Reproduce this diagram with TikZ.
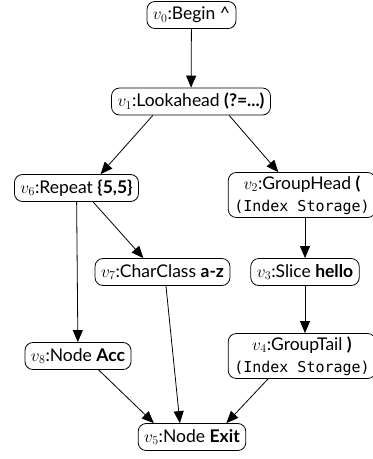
\documentclass[tikz,border=0pt]{standalone}
\usepackage{fontspec}
\setmainfont{Lato}
\setmonofont{DejaVu Sans Mono}
\usetikzlibrary{arrows.meta, calc, positioning}

\begin{document}
\begin{tikzpicture}[x=1pt, y=-1pt, >={Triangle[length=12pt, width=10pt]},
  every node/.style={draw, rounded corners=8pt, font=\fontsize{17.5}{21}\selectfont,
    minimum height=27pt, inner xsep=6pt, inner ysep=3pt, align=center, line width=0.8pt},
  every path/.style={line width=0.8pt}
 ]
 \useasboundingbox (0,0) rectangle (373,459);
 \node at (191.5,15) (v0) {$v_0$:Begin \^{}};
 \node at (191,101.5) (v1) {$v_1$:Lookahead \textbf{(?=...)}};
 \node at (76.5,188) (v6) {$v_6$:Repeat \textbf{\{5,5\}}};
 \node at (302,195) (v2) {$v_2$:GroupHead \textbf{(}\\[1pt]\texttt{\fontsize{15}{20}\selectfont(Index Storage)}};
 \node at (162.5,272) (v7) {$v_7$:CharClass \textbf{a-z}};
 \node at (305,272) (v3) {$v_3$:Slice \textbf{hello}};
 \node at (78,356) (v8) {$v_8$:Node \textbf{Acc}};
 \node at (302,356) (v4) {$v_4$:GroupTail \textbf{)}\\[1pt]\texttt{\fontsize{15}{20}\selectfont(Index Storage)}};
 \node at (192,437) (v5) {$v_5$:Node \textbf{Exit}};

 \draw [->] (v0) -- (v1);
 \draw [->] (v1.200) -- (v6.30);
 \draw [->] (v1.-20) -- (v2.136);
 \draw [->] (v6) -- (v8);
 \draw [->] (v6.-40) -- (v7.144);
 \draw [->] (v2.south -| v3.north) -- (v3.north);
 \draw [->] (v3.south) -- (v3.south |- v4.north);
 \draw [->] (v7.-76) -- (v5.131);
 \draw [->] (v8.-34) -- (v5.160);
 \draw [->] (v4.214) -- (v5.22);
\end{tikzpicture}
\end{document}
